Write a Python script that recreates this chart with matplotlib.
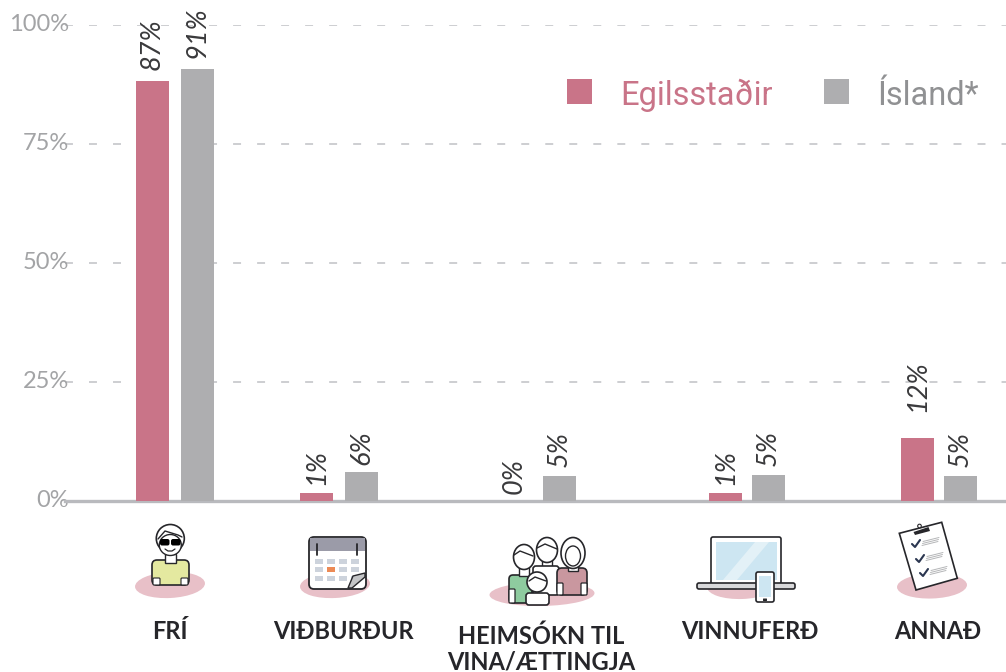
#!/usr/bin/python3
import matplotlib
matplotlib.use('Agg')
import matplotlib.pyplot as plt
from matplotlib.patches import Ellipse, Circle, Rectangle, FancyBboxPatch, Polygon
from matplotlib.transforms import ScaledTranslation

categories = ['FRÍ', 'VIÐBURÐUR', 'HEIMSÓKN TIL\nVINA/ÆTTINGJA', 'VINNUFERÐ', 'ANNAÐ']
egil_vals = [88.2, 1.7, 0.0, 1.7, 13.2]
island_vals = [90.8, 6.1, 5.2, 5.4, 5.2]
egil_labels = ['87%', '1%', '0%', '1%', '12%']
island_labels = ['91%', '6%', '5%', '5%', '5%']
yticks = [0, 25, 50, 75, 100]
ylabels = ['0%', '25%', '50%', '75%', '100%']

# group positions are not evenly spaced in the original, x axis is in pixels
egil_x = [152.5, 316.5, 514.5, 725.5, 917.5]
island_x = [197.5, 361.5, 559.5, 768.5, 960.5]
cat_x = [170, 343.5, 541, 749.5, 938]
cat_top = [620, 620, 624, 620, 620]

PINK = '#c97488'
GREY = '#aeaeb0'
BLUSH = '#e8c0c8'
INK = '#26262a'

W, H = 1006, 672
fig = plt.figure(figsize=(W / 100, H / 100), dpi=100)
ax = fig.add_axes([65 / W, (H - 501) / H, (W - 65) / W, 476 / H])
ax.set_xlim(65, W)
ax.set_ylim(0, 100)
for s in ax.spines.values():
    s.set_visible(False)
ax.set_xticks([])
ax.set_yticks(yticks)
ax.set_yticklabels(ylabels, family='Lato', fontsize=17, color='#a3a4a6')
ax.tick_params(axis='y', length=0, pad=-5)
shift = ScaledTranslation(-2 / 72, 2 / 72, fig.dpi_scale_trans)
for lab in ax.get_yticklabels():
    lab.set_transform(lab.get_transform() + shift)
ax.set_axisbelow(True)
ax.grid(axis='y', color='#c9cace', lw=1.3, linestyle=(0, (4.4, 8.9)))
ax.axhline(0, color='#b9babe', lw=2.4, zorder=1, clip_on=False)

ax.bar(egil_x, egil_vals, width=33, color=PINK, zorder=3)
ax.bar(island_x, island_vals, width=33, color=GREY, zorder=3)

# the 12% label sits higher over its bar than the others
egil_off = [8, 6, 5, 6, 19]
island_off = [8, 5, 7, 7, 7]
for xs, vals, labs, offs in [(egil_x, egil_vals, egil_labels, egil_off),
                             (island_x, island_vals, island_labels, island_off)]:
    for x, v, lab, off in zip(xs, vals, labs, offs):
        ax.annotate(lab, (x, v), xytext=(0, off), textcoords='offset points', rotation=90,
                    ha='center', va='bottom', family='Lato', style='italic',
                    fontsize=19.5, color='#3a3a3c', zorder=4, annotation_clip=False)

# overlay in pixel coordinates for legend, category labels and icons
ov = fig.add_axes([0, 0, 1, 1])
ov.set_xlim(0, W)
ov.set_ylim(H, 0)
ov.axis('off')
ov.patch.set_alpha(0)

ov.add_patch(Rectangle((567, 79), 25, 25, color=PINK, lw=0))
ov.add_patch(Rectangle((824, 79), 25, 25, color=GREY, lw=0))
ov.text(620, 105, 'Egilsstaðir', color=PINK, fontsize=23.5, family='Roboto', va='baseline')
ov.text(877, 105, 'Ísland*', color='#909193', fontsize=23.5, family='Roboto', va='baseline')

for x, y, name in zip(cat_x, cat_top, categories):
    ov.text(x, y, name, ha='center', va='top', family='Lato', weight='bold', fontsize=17,
            color=INK, linespacing=1.18)


def blob(x, y, w=70, h=26, ang=-3):
    ov.add_patch(Ellipse((x, y), w, h, angle=ang, color=BLUSH, lw=0, zorder=1))


def line(xs, ys, lw=1.2, c=INK, z=6):
    ov.plot(xs, ys, color=c, lw=lw, solid_capstyle='round', zorder=z)


def rbox(x0, y0, x1, y1, fc, r=3, lw=1.2, ec=INK, z=3):
    ov.add_patch(FancyBboxPatch((x0 + r, y0 + r), x1 - x0 - 2 * r, y1 - y0 - 2 * r,
                                boxstyle='round,pad=%g,rounding_size=%g' % (r, r),
                                fc=fc, ec=ec, lw=lw, zorder=z))


def head(x, y, r, z=5, lw=1.2):
    ov.add_patch(Circle((x, y), r, fc='white', ec=INK, lw=lw, zorder=z))


# FRI icon
blob(170, 585)
rbox(152, 560, 189, 585, '#e4e9a0', r=5)
rbox(153, 578, 160, 585, 'white', r=1, lw=0.8, z=4)
rbox(181, 578, 188, 585, 'white', r=1, lw=0.8, z=4)
ov.add_patch(Rectangle((165, 554), 11, 9, fc='white', ec=INK, lw=1.0, zorder=4))
head(170.3, 538.5, 14, z=5)
ov.add_patch(Ellipse((170.3, 545), 22, 21, fc='white', ec=INK, lw=1.0, zorder=5))
line([158, 165, 178, 182], [539, 531, 535, 537], lw=1.0)
rbox(160, 539, 169.5, 545.5, 'black', r=2, lw=0, z=7)
rbox(171, 539, 180.5, 545.5, 'black', r=2, lw=0, z=7)
line([165, 168, 172, 175], [549, 551, 551, 549], lw=0.9)

# VIDBURDUR icon
blob(335, 585)
rbox(309, 537, 366, 589, 'white', r=5, lw=1.3)
ov.add_patch(Rectangle((310, 538), 55, 13, color='#9b9ba8', lw=0, zorder=4))
for cx in [317.5, 357]:
    line([cx, cx], [544, 555], lw=1.3, z=6)
for row, cy in enumerate([561, 569.5, 578]):
    for col, cx in enumerate([319, 331, 343, 355]):
        fc = '#ec8a55' if (row, col) == (1, 1) else '#cdd3dc'
        ov.add_patch(Rectangle((cx - 4, cy - 2.5), 8, 5, color=fc, lw=0, zorder=4))
ov.add_patch(Polygon([[348, 588], [353, 576], [365, 573], [365, 577], [352, 588]],
                     closed=True, fc='#c4c5c7', ec=INK, lw=1.0, zorder=5))

# HEIMSOKN icon
blob(542, 594, w=105, h=24, ang=-1)
rbox(509, 575, 532, 603, '#8ecb9f', r=4)
rbox(533, 566, 559, 595, 'white', r=3, z=3)
rbox(557, 568, 587, 595, '#c9979f', r=5)
rbox(557, 583, 563, 595, 'white', r=1, lw=0.9, z=4)
rbox(581, 583, 587, 595, 'white', r=1, lw=0.9, z=4)
rbox(509, 589, 515, 603, 'white', r=1, lw=0.9, z=4)
ov.add_patch(Rectangle((519, 566), 10, 10, fc='white', ec=INK, lw=1.0, zorder=4))
ov.add_patch(Rectangle((542, 558), 10, 10, fc='white', ec=INK, lw=1.0, zorder=2.5))
ov.add_patch(Rectangle((568, 562), 10, 9, fc='white', ec=INK, lw=1.0, zorder=3.5))
ov.add_patch(Ellipse((524, 557), 21, 25, fc='white', ec=INK, lw=1.2, zorder=5))
ov.add_patch(Ellipse((547, 550), 21, 25, fc='white', ec=INK, lw=1.2, zorder=5))
ov.add_patch(Ellipse((573, 553), 24, 31, fc='white', ec=INK, lw=1.2, zorder=4))
ov.add_patch(Ellipse((573, 556), 15, 20, fc='white', ec=INK, lw=1.0, zorder=5))
line([514, 520, 533], [555, 551, 556], lw=1.0)
line([537, 545, 557], [548, 544, 549], lw=1.0)
rbox(526, 593, 549, 605, 'white', r=3, z=6)
head(537, 582, 10, z=7)
line([529, 535, 546], [581, 577, 581], lw=1.0, z=8)

# VINNUFERD icon
blob(742, 586, ang=-2)
rbox(711, 537, 781, 584, 'white', r=2, lw=1.2)
ov.add_patch(Rectangle((716, 542), 61, 38, color='#cde6f2', lw=0, zorder=4))
ov.add_patch(Polygon([[723, 580], [755, 542], [769, 542], [737, 580]], color='#e3f1f7', lw=0, zorder=5))
rbox(697, 583, 795, 589, '#d9d9db', r=2, lw=1.2, z=6)
rbox(756, 572, 774, 602, 'white', r=2, lw=1.2, z=7)
ov.add_patch(Rectangle((759, 576), 12, 21, color='#cde6f2', lw=0, zorder=8))
rbox(763, 598.5, 767, 601, INK, r=0.5, lw=0, z=8)

# ANNAD icon
blob(932, 586, h=25, ang=-2)
ov.add_patch(Polygon([[899.3, 533.3], [941.7, 522.3], [957.3, 578.3], [916, 590]], closed=True,
                     fc='white', ec=INK, lw=1.2, zorder=4))
ov.add_patch(Polygon([[913.5, 532], [928.5, 527], [930, 531], [915, 535]], color=INK, lw=0, zorder=5))
ov.add_patch(Circle((919.5, 526), 1.8, fc='white', ec=INK, lw=0.8, zorder=5))
for cx, cy in [(915, 544), (919, 559), (923, 573)]:
    line([cx - 3, cx, cx + 5], [cy, cy + 3, cy - 4], lw=1.5, c='#2b3650')
    for k in range(3):
        line([cx + 7 + k * 0.5, cx + 23 + k * 0.5], [cy + 1.5 - k * 2, cy - 2.5 - k * 2], lw=0.7, c='#b5b6b8')

fig.savefig('out.png', dpi=100)
